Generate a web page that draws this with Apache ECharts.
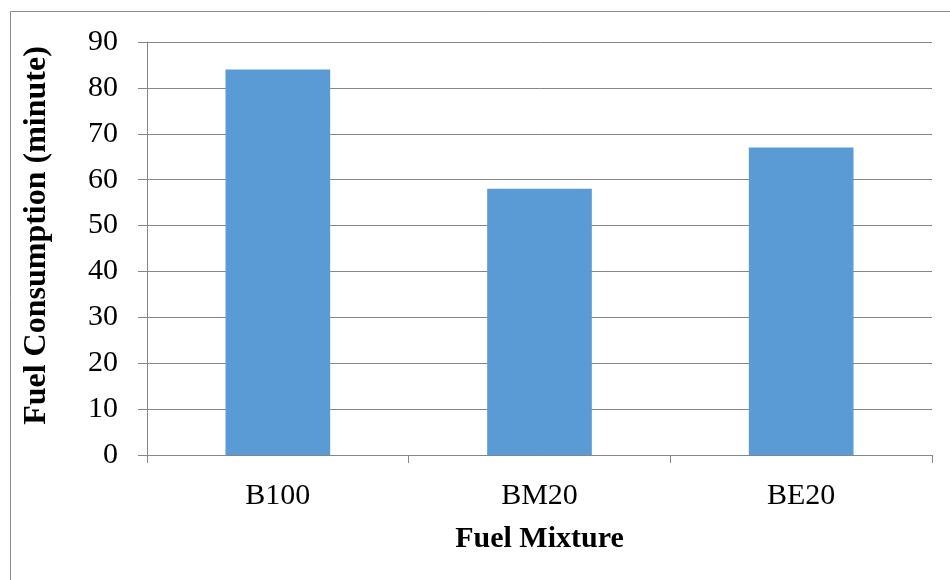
<!DOCTYPE html>
<html><head><meta charset="utf-8">
<script src="https://cdn.jsdelivr.net/npm/echarts@6/dist/echarts.min.js"></script>
<style>html,body{margin:0;padding:0;background:#fff}#c{width:950px;height:580px}</style>
</head><body><div id="c"></div>
<script>
const categories = ['B100', 'BM20', 'BE20'];
const values = [84, 58, 67];
const yTicks = { min: 0, max: 90, interval: 10 };
const xTitle = 'Fuel Mixture';
const yTitle = 'Fuel Consumption (minute)';

const chart = echarts.init(document.getElementById('c'), null, { renderer: 'canvas' });
const font = 'Liberation Serif, Times New Roman, serif';
chart.setOption({
  animation: false,
  backgroundColor: '#fff',
  graphic: [{
    type: 'rect', shape: { x: 10.5, y: 11.5, width: 1000, height: 1000 },
    style: { fill: 'none', stroke: '#8c8c8c', lineWidth: 1 }, silent: true, z: -1
  }],
  grid: { left: 147, right: 18, top: 42, bottom: 125 },
  xAxis: {
    type: 'category', data: categories,
    axisLine: { lineStyle: { color: '#868686', width: 1 } },
    axisTick: { show: true, alignWithLabel: false, length: 8, lineStyle: { color: '#868686' } },
    axisLabel: { fontFamily: font, fontSize: 30, color: '#000', margin: 26 },
    name: xTitle, nameLocation: 'middle', nameGap: 69,
    nameTextStyle: { fontFamily: font, fontSize: 30, fontWeight: 'bold', color: '#000' }
  },
  yAxis: {
    type: 'value', min: yTicks.min, max: yTicks.max, interval: yTicks.interval,
    axisLine: { show: true, lineStyle: { color: '#868686', width: 1 } },
    axisTick: { show: true, length: 9, lineStyle: { color: '#868686' } },
    splitLine: { lineStyle: { color: '#868686', width: 1 } },
    axisLabel: { fontFamily: font, fontSize: 30, color: '#000', margin: 29 },
    name: yTitle, nameLocation: 'middle', nameGap: 94, nameRotate: 90,
    nameTextStyle: { fontFamily: font, fontSize: 32, fontWeight: 'bold', color: '#000', padding: [0, 0, 0, 26] }
  },
  series: [{
    type: 'bar', data: values, barWidth: '40%',
    itemStyle: { color: '#5B9BD5' }
  }]
});
</script></body></html>
